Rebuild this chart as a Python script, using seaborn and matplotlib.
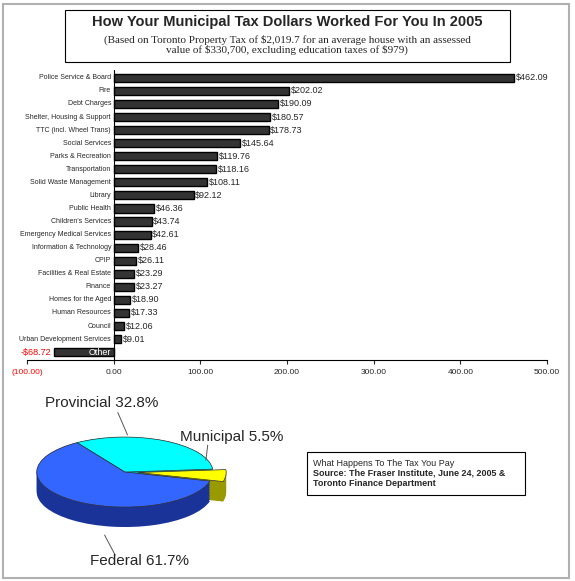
import matplotlib
matplotlib.use("Agg")
import matplotlib.pyplot as plt
import seaborn as sns
import numpy as np
import pandas as pd
from matplotlib.patches import Rectangle

sns.set_style("white")
plt.rcParams['font.family'] = ['Liberation Sans', 'DejaVu Sans']

categories = ["Police Service & Board", "Fire", "Debt Charges", "Shelter, Housing & Support",
              "TTC (incl. Wheel Trans)", "Social Services", "Parks & Recreation", "Transportation",
              "Solid Waste Management", "Library", "Public Health", "Children's Services",
              "Emergency Medical Services", "Information & Technology", "CPIP",
              "Facilities & Real Estate", "Finance", "Homes for the Aged", "Human Resources",
              "Council", "Urban Development Services", "Other"]
values = [462.09, 202.02, 190.09, 180.57, 178.73, 145.64, 119.76, 118.16, 108.11, 92.12,
          46.36, 43.74, 42.61, 28.46, 26.11, 23.29, 23.27, 18.90, 17.33, 12.06, 9.01, -68.72]
xticks = [-100, 0, 100, 200, 300, 400, 500]
xticklabels = ["(100.00)", "0.00", "100.00", "200.00", "300.00", "400.00", "500.00"]
pie_labels = ["Municipal", "Provincial", "Federal"]
pie_values = [5.5, 32.8, 61.7]

df = pd.DataFrame({"cat": categories, "val": values})

fig = plt.figure(figsize=(5.75, 5.81), dpi=100)
fig.patches.append(Rectangle((0.005, 0.005), 0.985, 0.988, transform=fig.transFigure,
                             fill=False, edgecolor="#b0b0b0", lw=1.5))

fig.patches.append(Rectangle((65/575, 1-62/581), 445/575, 52/581, transform=fig.transFigure,
                             fill=False, edgecolor="black", lw=0.8))
fig.text(287/575, 1-22/581, "How Your Municipal Tax Dollars Worked For You In 2005",
         ha="center", va="center", fontsize=10.5, fontweight="bold")
fig.text(287/575, 1-45/581, "(Based on Toronto Property Tax of \\$2,019.7 for an average house with an assessed\nvalue of \\$330,700, excluding education taxes of \\$979)",
         ha="center", va="center", fontsize=8, family="Liberation Serif", linespacing=1.0)

ax = fig.add_axes([27/575, 1-360/581, 520/575, 290/581])
sns.barplot(data=df, y="cat", x="val", orient="h", color="#333333", width=0.62,
            edgecolor="black", ax=ax)
ax.set_xlim(-100, 500)
ax.set_ylim(len(categories) - 0.4, -0.6)
ax.set_xticks(xticks)
ax.set_xticklabels(xticklabels, fontsize=6)
for t in ax.get_xticklabels():
    if t.get_text().startswith("("):
        t.set_color("red")
ax.set_yticks([])
ax.set_xlabel(""); ax.set_ylabel("")
for s in ["top", "right", "left"]:
    ax.spines[s].set_visible(False)
ax.spines["bottom"].set_color("black")
ax.axvline(0, color="black", lw=0.8)
ax.tick_params(axis="x", length=3, direction="out", bottom=True)
for i, (c, v) in enumerate(zip(categories, values)):
    if v >= 0:
        ax.text(-3, i, c, ha="right", va="center", fontsize=5)
        ax.text(v + 2, i, f"\\${v:.2f}", ha="left", va="center", fontsize=6.5)
    else:
        ax.text(-3, i, c, ha="right", va="center", fontsize=6.5, color="white")
        ax.text(v - 3, i, f"-\\${-v:.2f}", ha="right", va="center", fontsize=6.5, color="red")

# pie
axp = fig.add_axes([20/575, 1-561/581, 230/575, 180/581])
top_colors = ["#ffff00", "#00ffff", "#3366ff"]
side_colors = ["#999900", "#00aaaa", "#1a3399"]
explode = [0.15, 0, 0]
for k in np.linspace(-0.57, 0, 14):
    axp.pie(pie_values, colors=side_colors, startangle=-15, counterclock=True,
            explode=explode, center=(0, k), wedgeprops=dict(linewidth=0))
axp.pie(pie_values, colors=top_colors, startangle=-15, counterclock=True,
        explode=explode, center=(0, 0), wedgeprops=dict(linewidth=0.5, edgecolor="#333333"))
axp.set_aspect("auto")
axp.set_xlim(-1.19, 1.42)
axp.set_ylim(-2.54, 2.6)
axp.plot([-0.08, 0.03], [1.7, 1.06], color="#555555", lw=0.7)
axp.plot([-0.23, -0.11], [-1.8, -2.37], color="#555555", lw=0.7)
axp.plot([0.94, 0.92], [0.77, 0.34], color="#555555", lw=0.7)
fig.text(45/575, 1-403/581, "Provincial 32.8%", fontsize=11, va="center")
fig.text(180/575, 1-437/581, "Municipal 5.5%", fontsize=11, va="center")
fig.text(90/575, 1-561/581, "Federal 61.7%", fontsize=11, va="center")

fig.patches.append(Rectangle((307/575, 1-495/581), 218/575, 43/581, transform=fig.transFigure,
                             fill=False, edgecolor="black", lw=0.8))
fig.text(313/575, 1-463/581, "What Happens To The Tax You Pay", fontsize=6.5, va="center")
fig.text(313/575, 1-473/581, "Source: The Fraser Institute, June 24, 2005 &", fontsize=6.5,
         va="center", fontweight="bold")
fig.text(313/575, 1-483/581, "Toronto Finance Department", fontsize=6.5, va="center", fontweight="bold")

fig.savefig("out.png", dpi=100)
